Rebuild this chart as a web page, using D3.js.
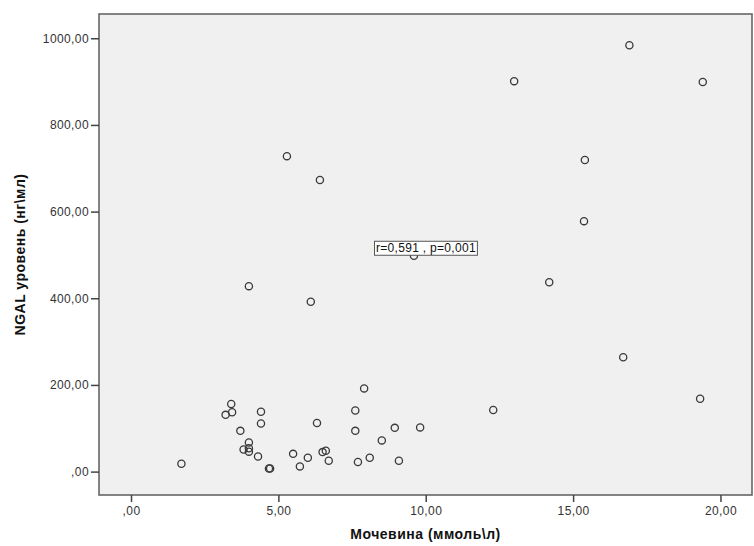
<!DOCTYPE html>
<html>
<head>
<meta charset="utf-8">
<script src="https://cdn.jsdelivr.net/npm/d3@7"></script>
<style>
  html, body { margin: 0; padding: 0; background: #fff; }
  svg { display: block; font-family: "Liberation Sans", Arial, sans-serif; }
</style>
</head>
<body>
<svg id="chart" width="754" height="546"></svg>
<script>
// Urea (mmol/l) values
const ureaValues = [
  1.71, 3.21, 3.40, 3.43, 3.71, 3.82, 4.00, 4.00, 4.00, 4.31,
  4.41, 4.41, 4.68, 4.72, 5.50, 5.73, 6.00, 6.31, 6.50, 6.61,
  6.71, 7.61, 7.61, 7.70, 7.91, 8.10, 8.51, 8.95, 9.09, 9.81,
  12.29, 16.70, 19.31, 14.19, 4.00, 6.10, 9.60, 15.37, 6.41, 15.40,
  5.29, 13.00, 19.40, 16.91
];
// NGAL level (ng/ml) values
const ngalValues = [
  18, 131, 156, 137, 94, 51, 67, 54, 46, 35,
  138, 111, 7, 7, 41, 12, 32, 112, 45, 48,
  25, 141, 94, 22, 192, 32, 72, 101, 25, 102,
  142, 264, 168, 437, 428, 392, 498, 578, 673, 719,
  728, 901, 899, 984
];
const xTicks = [0, 5, 10, 15, 20];
const xTickLabels = [",00", "5,00", "10,00", "15,00", "20,00"];
const yTicks = [0, 200, 400, 600, 800, 1000];
const yTickLabels = [",00", "200,00", "400,00", "600,00", "800,00", "1000,00"];
const xTitle = "Мочевина (ммоль\\л)";
const yTitle = "NGAL уровень (нг\\мл)";
const corrLabel = "r=0,591 , p=0,001";
const corrLabelAt = [9.6, 520];

const svg = d3.select("#chart");
const plot = { left: 99, right: 752, top: 14, bottom: 495 };

const x = d3.scaleLinear().domain([-1.086, 21.07]).range([plot.left, plot.right]);
const y = d3.scaleLinear().domain([-54, 1056]).range([plot.bottom, plot.top]);

// panel
svg.append("rect")
  .attr("x", plot.left).attr("y", plot.top)
  .attr("width", plot.right - plot.left).attr("height", plot.bottom - plot.top)
  .attr("fill", "#f0f0f0").attr("stroke", "none");

// points
svg.append("g").selectAll("circle")
  .data(ureaValues.map((v, i) => [v, ngalValues[i]]))
  .join("circle")
  .attr("cx", d => x(d[0])).attr("cy", d => y(d[1]))
  .attr("r", 3.6)
  .attr("fill", "none")
  .attr("stroke", "#3a3a3a")
  .attr("stroke-width", 1.3);

// frame
svg.append("rect")
  .attr("x", plot.left).attr("y", plot.top)
  .attr("width", plot.right - plot.left).attr("height", plot.bottom - plot.top)
  .attr("fill", "none").attr("stroke", "#666").attr("stroke-width", 1.6);

// axes
const xAxis = d3.axisBottom(x).tickValues(xTicks)
  .tickFormat((d, i) => xTickLabels[i]).tickSize(7).tickSizeOuter(0).tickPadding(4);
const gx = svg.append("g").attr("transform", `translate(0,${plot.bottom})`).call(xAxis);
gx.select(".domain").remove();
gx.selectAll(".tick line").attr("stroke", "#444").attr("stroke-width", 1.5);
gx.selectAll(".tick text").attr("fill", "#333").attr("font-size", "12px").attr("letter-spacing", "0.4px");

const yAxis = d3.axisLeft(y).tickValues(yTicks)
  .tickFormat((d, i) => yTickLabels[i]).tickSize(8).tickSizeOuter(0).tickPadding(2);
const gy = svg.append("g").attr("transform", `translate(${plot.left},0)`).call(yAxis);
gy.select(".domain").remove();
gy.selectAll(".tick line").attr("stroke", "#444").attr("stroke-width", 1.5);
gy.selectAll(".tick text").attr("fill", "#333").attr("font-size", "12px").attr("letter-spacing", "0.4px");

// axis titles
svg.append("text")
  .attr("x", (plot.left + plot.right) / 2).attr("y", 539)
  .attr("text-anchor", "middle")
  .attr("font-size", "14px").attr("font-weight", "bold").attr("fill", "#111")
  .attr("letter-spacing", "0.5px")
  .text(xTitle);

svg.append("text")
  .attr("transform", `translate(25,${(plot.top + plot.bottom) / 2}) rotate(-90)`)
  .attr("text-anchor", "middle")
  .attr("font-size", "14px").attr("font-weight", "bold").attr("fill", "#111")
  .attr("letter-spacing", "0.5px")
  .text(yTitle);

// correlation label
const lbl = svg.append("g");
const lt = lbl.append("text")
  .attr("x", x(corrLabelAt[0]) + 12).attr("y", y(corrLabelAt[1]) + 6)
  .attr("text-anchor", "middle")
  .attr("font-size", "12px").attr("fill", "#111")
  .attr("letter-spacing", "0.3px")
  .text(corrLabel);
const bb = lt.node().getBBox();
lbl.insert("rect", "text")
  .attr("x", bb.x - 1.5).attr("y", bb.y)
  .attr("width", bb.width + 3).attr("height", bb.height)
  .attr("fill", "#fff").attr("stroke", "#555").attr("stroke-width", 1);
</script>
</body>
</html>
